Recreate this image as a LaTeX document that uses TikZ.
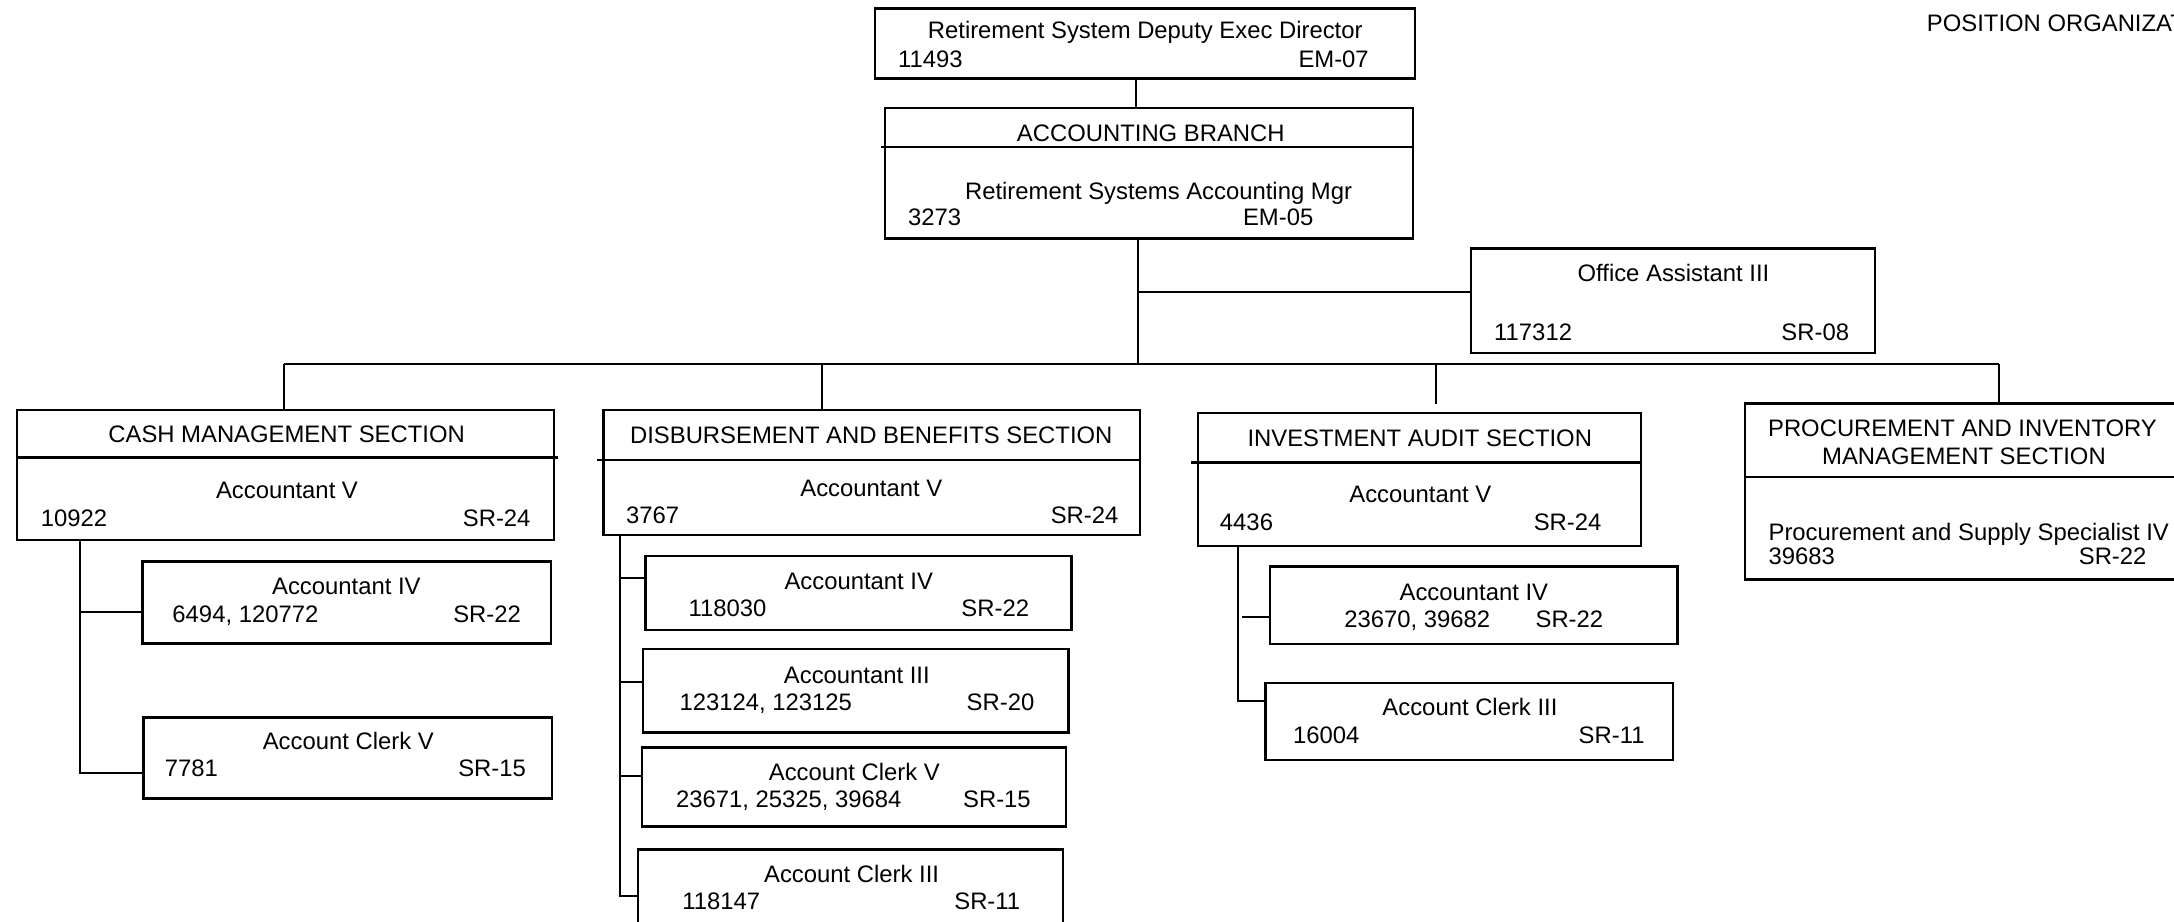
\documentclass[tikz,border=0pt]{standalone}
\usepackage{fontspec}
\setmainfont{Liberation Sans}
\tikzset{
  orgbox/.style={draw, rectangle, line width=1.7pt, inner sep=0pt},
  conn/.style={line width=1.4pt},
  divline/.style={line width=1.7pt},
  txt/.style={inner sep=0pt, font=\fontsize{17.2}{20}\selectfont},
}
\newcommand\obox[5]{\node[orgbox, minimum width={(#4-#2)*1pt}, minimum height={(#5-#3)*1pt}] (#1) at ({(#2+#4)/2},{(#3+#5)/2}) {};}
\newcommand\tcen[4]{\node[txt, anchor=base] (#1) at (#2,#3) {#4};}
\newcommand\tlef[4]{\node[txt, anchor=base west] (#1) at (#2,#3) {#4};}
\newcommand\trig[4]{\node[txt, anchor=base east] (#1) at (#2,#3) {#4};}
\begin{document}
\begin{tikzpicture}[x=1pt, y=-1pt]
\useasboundingbox (0,0) rectangle (1568,664.3);
\clip (0,0) rectangle (1568,664.3);
\fill[white] (0,0) rectangle (1568,664.3);

% title
\tlef{title}{1389.6}{22.8}{POSITION ORGANIZAT}

% boxes
\obox{top}{631.3}{6}{1020.5}{56.5}
\obox{acct}{638.2}{78.1}{1019.1}{171.9}
\obox{oa}{1060.8}{179.1}{1352.2}{254.8}
\obox{cash}{12.4}{295.7}{399.4}{389.5}
\obox{ca4}{102.7}{405}{397.5}{464}
\obox{ccv}{103.5}{517.4}{398.3}{575.8}
\obox{disb}{435.3}{295.7}{822.2}{385.9}
\obox{da4}{465.5}{401}{772.8}{454.4}
\obox{da3}{463.7}{468.3}{770.7}{528.4}
\obox{dcv}{462.9}{539.2}{768.9}{596.2}
\obox{dc3}{460.3}{612.6}{766.8}{675}
\obox{inv}{863.9}{298.1}{1183.6}{393.8}
\obox{ia4}{915.8}{408.7}{1209.8}{464.7}
\obox{ic3}{912.8}{492.4}{1206.8}{548.1}
\obox{proc}{1258.6}{290.9}{1578}{418}

% header dividers
\draw[divline] (635.4,105.8) -- (1019.1,105.8);
\draw[divline] (12.4,330) -- (402.5,330);
\draw[divline] (430.6,331.8) -- (822.2,331.8);
\draw[divline] (859.2,333.7) -- (1183.6,333.7);
\draw[divline] (1258.6,344) -- (1578,344);

% connectors
\coordinate (c0) at (819,0);
\draw[conn] (c0 |- top.south) -- (c0 |- acct.north);
\coordinate (bus) at (820.75,262.8);
\coordinate (oaj) at (820.75,210.4);
\draw[conn] (bus |- acct.south) -- (bus);
\draw[conn] (oaj) -- (oaj -| oa.west);
\coordinate (busL) at (204.8,262.8);
\coordinate (busD) at (593,262.8);
\coordinate (busI) at (1035.9,262.8);
\coordinate (busR) at (1441.8,262.8);
\draw[conn] (busL) -- (busR);
\draw[conn] (busL) -- (busL |- cash.north);
\draw[conn] (busD) -- (busD |- disb.north);
\draw[conn, shorten >=6pt] (busI) -- (busI |- inv.north);
\draw[conn] (busR) -- (busR |- proc.north);

% cash children
\coordinate (cb1) at (58,441.6);
\coordinate (cb2) at (58,557.8);
\draw[conn] (cb1 |- cash.south) -- (cb2) -- (cb2 -| ccv.west);
\draw[conn] (cb1) -- (cb1 -| ca4.west);

% disbursement children
\coordinate (db1) at (447.4,417.1);
\coordinate (db2) at (447.4,491.6);
\coordinate (db3) at (447.4,559.7);
\coordinate (db4) at (447.4,646.2);
\draw[conn] (db1 |- disb.south) -- (db4) -- (db4 -| dc3.west);
\draw[conn] (db1) -- (db1 -| da4.west);
\draw[conn] (db2) -- (db2 -| da3.west);
\draw[conn] (db3) -- (db3 -| dcv.west);

% investment children
\coordinate (ib1) at (892.9,444.8);
\coordinate (ib2) at (892.9,505.3);
\draw[conn] (ib1 |- inv.south) -- (ib2) -- (ib2 -| ic3.west);
\draw[conn] ([xshift=2.8pt]ib1) -- (ib1 -| ia4.west);

% texts
\tcen{t1}{826}{27.5}{Retirement System Deputy Exec Director}
\tlef{t2}{647.5}{48.5}{11493}
\trig{t3}{987.4}{48.5}{EM-07}

\tcen{a1}{830}{102.2}{ACCOUNTING BRANCH}
\tcen{a2}{835.6}{144.2}{Retirement Systems Accounting Mgr}
\tlef{a3}{654.8}{162.3}{3273}
\trig{a4}{947.4}{162.3}{EM-05}

\tcen{o1}{1207}{203}{Office Assistant III}
\tlef{o2}{1077.5}{245.5}{117312}
\trig{o3}{1333.8}{245.5}{SR-08}

\tcen{c1}{206.7}{319.3}{CASH MANAGEMENT SECTION}
\tcen{c2}{207}{359.4}{Accountant V}
\tlef{c3}{29.3}{379.4}{10922}
\trig{c4}{382.8}{379.4}{SR-24}

\tcen{c5}{249.8}{429}{Accountant IV}
\tlef{c6}{124.2}{448.9}{6494, 120772}
\trig{c7}{375.9}{448.9}{SR-22}

\tcen{c8}{251.2}{540.5}{Account Clerk V}
\tlef{c9}{118.7}{560}{7781}
\trig{c10}{379.5}{560}{SR-15}

\tcen{d1}{628.4}{320.2}{DISBURSEMENT AND BENEFITS SECTION}
\tcen{d2}{628.4}{358.2}{Accountant V}
\tlef{d3}{451.3}{377.4}{3767}
\trig{d4}{806.8}{377.4}{SR-24}

\tcen{d5}{619.4}{425}{Accountant IV}
\tlef{d6}{496.4}{444.8}{118030}
\trig{d7}{742.4}{444.8}{SR-22}

\tcen{d8}{618}{492.9}{Accountant III}
\tlef{d9}{489.9}{512.1}{123124, 123125}
\trig{d10}{746.2}{512.1}{SR-20}

\tcen{d11}{616.2}{562.6}{Account Clerk V}
\tlef{d12}{487.4}{582.3}{23671, 25325, 39684}
\trig{d13}{743.6}{582.3}{SR-15}

\tcen{d14}{614.2}{636.6}{Account Clerk III}
\tlef{d15}{492}{656.3}{118147}
\trig{d16}{736}{656.3}{SR-11}

\tcen{i1}{1024}{322.2}{INVESTMENT AUDIT SECTION}
\tcen{i2}{1024.4}{362.5}{Accountant V}
\tlef{i3}{879.7}{382.3}{4436}
\trig{i4}{1155.2}{382.3}{SR-24}

\tcen{i5}{1063}{433.2}{Accountant IV}
\tlef{i6}{969.4}{452.5}{23670, 39682}
\trig{i7}{1156.5}{452.5}{SR-22}

\tcen{i8}{1060.2}{515.7}{Account Clerk III}
\tlef{i9}{932.4}{536.1}{16004}
\trig{i10}{1186.3}{536.1}{SR-11}

\tcen{p1}{1415.4}{315}{PROCUREMENT AND INVENTORY}
\tcen{p2}{1416.5}{334.7}{MANAGEMENT SECTION}
\tlef{p3}{1275.4}{389.5}{Procurement and Supply Specialist IV}
\tlef{p4}{1275.4}{406.8}{39683}
\trig{p5}{1548.3}{406.8}{SR-22}
\end{tikzpicture}
\end{document}
